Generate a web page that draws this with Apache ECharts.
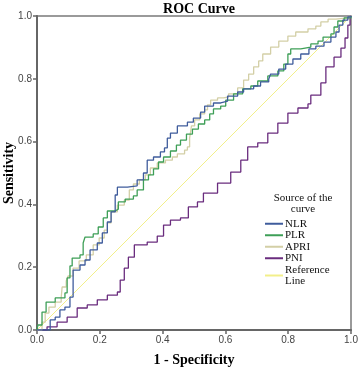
<!DOCTYPE html>
<html><head><meta charset="utf-8">
<script src="https://cdn.jsdelivr.net/npm/echarts@6/dist/echarts.min.js"></script>
<style>html,body{margin:0;padding:0;background:#fff}#c{width:358px;height:369px}</style>
</head><body><div id="c"></div>
<script>
const ticks = [0, 0.2, 0.4, 0.6, 0.8, 1.0];
const seriesNames = ['NLR', 'PLR', 'APRI', 'PNI', 'Reference Line'];
const nlr = [[0,0],[0.042,0.032],[0.058,0.041],[0.073,0.064],[0.089,0.073],[0.105,0.105],[0.115,0.159],[0.115,0.191],[0.137,0.207],[0.153,0.223],[0.169,0.255],[0.192,0.277],[0.208,0.309],[0.224,0.344],[0.236,0.376],[0.249,0.430],[0.256,0.455],[0.288,0.459],[0.319,0.478],[0.339,0.500],[0.351,0.541],[0.371,0.551],[0.393,0.567],[0.406,0.580],[0.415,0.611],[0.425,0.627],[0.447,0.650],[0.479,0.662],[0.498,0.675],[0.521,0.694],[0.534,0.713],[0.562,0.723],[0.585,0.729],[0.607,0.745],[0.639,0.758],[0.658,0.768],[0.690,0.777],[0.712,0.790],[0.738,0.799],[0.744,0.815],[0.770,0.831],[0.792,0.847],[0.815,0.863],[0.840,0.879],[0.866,0.895],[0.888,0.904],[0.914,0.917],[0.936,0.933],[0.952,0.949],[0.962,0.971],[0.974,0.987],[0.990,0.997],[1,1]];
const plr = [[0,0],[0.003,0.016],[0.016,0.057],[0.029,0.089],[0.058,0.102],[0.089,0.118],[0.096,0.166],[0.105,0.204],[0.112,0.229],[0.137,0.239],[0.147,0.277],[0.153,0.296],[0.179,0.306],[0.195,0.328],[0.211,0.357],[0.224,0.379],[0.249,0.385],[0.259,0.408],[0.281,0.417],[0.307,0.427],[0.319,0.446],[0.339,0.478],[0.355,0.494],[0.371,0.513],[0.387,0.535],[0.403,0.551],[0.425,0.570],[0.444,0.589],[0.457,0.605],[0.476,0.624],[0.495,0.640],[0.514,0.656],[0.534,0.669],[0.550,0.688],[0.562,0.704],[0.585,0.713],[0.601,0.732],[0.626,0.752],[0.655,0.768],[0.681,0.777],[0.703,0.793],[0.735,0.809],[0.767,0.825],[0.786,0.847],[0.799,0.879],[0.808,0.895],[0.840,0.901],[0.872,0.911],[0.895,0.920],[0.911,0.933],[0.936,0.943],[0.946,0.965],[0.958,0.984],[0.978,0.994],[1,1]];
const apri = [[0,0],[0.016,0.025],[0.026,0.054],[0.038,0.073],[0.058,0.089],[0.077,0.102],[0.080,0.137],[0.093,0.156],[0.099,0.172],[0.115,0.197],[0.134,0.220],[0.157,0.239],[0.179,0.271],[0.198,0.293],[0.214,0.318],[0.224,0.341],[0.236,0.376],[0.256,0.398],[0.278,0.414],[0.294,0.446],[0.307,0.465],[0.326,0.478],[0.345,0.494],[0.361,0.516],[0.383,0.532],[0.409,0.541],[0.431,0.551],[0.447,0.561],[0.470,0.573],[0.479,0.583],[0.486,0.611],[0.492,0.650],[0.502,0.669],[0.518,0.688],[0.534,0.701],[0.543,0.717],[0.553,0.732],[0.575,0.739],[0.594,0.742],[0.610,0.752],[0.639,0.771],[0.658,0.796],[0.674,0.815],[0.690,0.838],[0.706,0.857],[0.719,0.879],[0.744,0.901],[0.770,0.920],[0.799,0.936],[0.824,0.949],[0.863,0.959],[0.888,0.968],[0.904,0.981],[0.927,0.990],[0.952,0.994],[0.990,0.997],[1,1]];
const pni = [[0,0],[0.032,0.010],[0.064,0.025],[0.096,0.041],[0.128,0.070],[0.160,0.080],[0.192,0.096],[0.224,0.111],[0.256,0.121],[0.265,0.159],[0.278,0.197],[0.291,0.232],[0.310,0.271],[0.351,0.280],[0.383,0.299],[0.403,0.334],[0.425,0.350],[0.457,0.357],[0.482,0.392],[0.511,0.408],[0.530,0.436],[0.575,0.468],[0.617,0.503],[0.649,0.541],[0.671,0.583],[0.703,0.596],[0.735,0.627],[0.767,0.659],[0.799,0.691],[0.831,0.707],[0.863,0.720],[0.872,0.748],[0.904,0.787],[0.920,0.838],[0.946,0.869],[0.968,0.898],[0.981,0.930],[0.990,0.971],[0.997,0.997],[1,1]];
const refLine = [[0,0],[1,1]];

const colors = ['#3f5c9c', '#3e9f57', '#d3cfa6', '#6a2c7e', '#f2ef8a'];
const serif = '"Liberation Serif","DejaVu Serif",serif';
const sans = '"Liberation Sans","DejaVu Sans",sans-serif';

const chart = echarts.init(document.getElementById('c'));
const mk = (name, data, i, w) => ({
  name, type: 'line', data, step: i < 4 ? 'end' : false, showSymbol: false, symbol: 'none',
  lineStyle: { color: colors[i], width: w }, itemStyle: { color: colors[i] }, z: 10 - i, animation: false
});
chart.setOption({
  animation: false,
  title: { text: 'ROC Curve', left: 194, textAlign: 'center', top: -3,
    textStyle: { fontFamily: serif, fontWeight: 'bold', fontSize: 14, color: '#000' } },
  grid: { left: 37, right: 7, top: 16, bottom: 39, outerBoundsMode: 'none', containLabel: false,
    show: true, borderColor: '#7a7a7a', borderWidth: 1.5 },
  xAxis: { type: 'value', min: 0, max: 1, interval: 0.2,
    name: '1 - Specificity', nameLocation: 'middle', nameGap: 23, nameMoveOverlap: false,
    nameTextStyle: { fontFamily: serif, fontWeight: 'bold', fontSize: 14, color: '#000' },
    axisLine: { lineStyle: { color: '#666', width: 2 } },
    axisTick: { length: 4, lineStyle: { color: '#666', width: 1.5 } },
    axisLabel: { fontFamily: sans, fontSize: 10, color: '#444', margin: 5, formatter: v => v.toFixed(1) },
    splitLine: { show: false } },
  yAxis: { type: 'value', min: 0, max: 1, interval: 0.2,
    axisLine: { lineStyle: { color: '#666', width: 2 } },
    axisTick: { length: 4, lineStyle: { color: '#666', width: 1.5 } },
    axisLabel: { fontFamily: sans, fontSize: 10, color: '#444', margin: 5, formatter: v => v.toFixed(1) },
    splitLine: { show: false } },
  legend: { orient: 'vertical', left: 265, top: 218, padding: 0, itemWidth: 18, itemHeight: 2, itemGap: 0,
    icon: 'rect', data: seriesNames,
    formatter: n => n === 'Reference Line' ? 'Reference\nLine' : n,
    textStyle: { fontFamily: serif, fontSize: 11, color: '#111', lineHeight: 11.5, padding: [0, 0, 0, -3] } },
  graphic: [
    { type: 'text', x: 303, y: 193, z: 100,
      style: { text: 'Source of the\ncurve', font: '11px "Liberation Serif", serif', fill: '#111', align: 'center', lineHeight: 11 } },
    { type: 'text', x: 9, y: 173, rotation: Math.PI / 2, z: 100,
      style: { text: 'Sensitivity', font: 'bold 14px "Liberation Serif", serif', fill: '#000', align: 'center', verticalAlign: 'middle' } }
  ],
  series: [mk('NLR', nlr, 0, 1.3), mk('PLR', plr, 1, 1.3), mk('APRI', apri, 2, 1.3), mk('PNI', pni, 3, 1.3), mk('Reference Line', refLine, 4, 1)]
});
</script></body></html>
